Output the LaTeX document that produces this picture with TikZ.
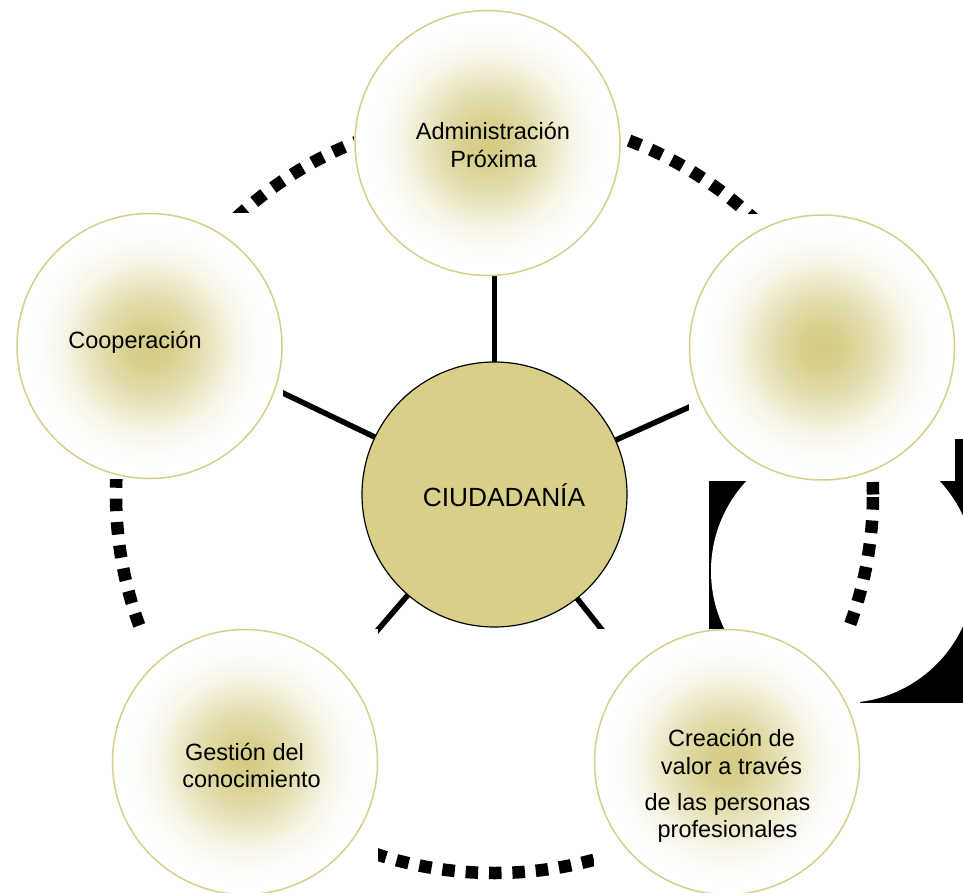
\documentclass[tikz,border=0pt]{standalone}
\usepackage{fontspec}
\setmainfont{Liberation Sans}
\usetikzlibrary{calc}
\pgfdeclarelayer{bg}
\pgfdeclarelayer{mid}
\pgfsetlayers{bg,mid,main}
\definecolor{gc}{RGB}{212,203,130}
\definecolor{rimc}{RGB}{217,205,138}
\definecolor{corec}{RGB}{216,208,137}
\pgfdeclareradialshading{glow}{\pgfpoint{0bp}{0bp}}{color(0bp)=(gc); color(4bp)=(gc!92!white); color(9bp)=(gc!65!white); color(13bp)=(gc!40!white); color(16.5bp)=(gc!18!white); color(20bp)=(gc!5!white); color(23bp)=(white); color(50bp)=(white)}
\tikzset{
  outer/.style={circle, minimum size=265pt, inner sep=0pt, draw=rimc, line width=1.5pt, shade, shading=glow},
  core/.style={circle, minimum size=265pt, inner sep=0pt, draw=black, line width=1.2pt, fill=corec},
  lbl/.style={anchor=base, font=\fontsize{23.5pt}{28pt}\selectfont, inner sep=0pt},
  corelbl/.style={anchor=base, font=\fontsize{26.3pt}{30pt}\selectfont, inner sep=0pt},
  spoke/.style={line width=5.5pt},
  ring/.style={line width=12.5pt, dash pattern=on 12.5pt off 10.9pt},
  bbox/.style={fill=white}
}
\begin{document}
\begin{tikzpicture}[x=1pt,y=-1pt]
\useasboundingbox (0,0) rectangle (963,893);
\begin{pgfonlayer}{bg}
  \fill[white] (0,0) rectangle (963,893);
  \fill[black] (709,439) rectangle (963,703);
  \fill[white] (843,571) circle[radius=132pt];
\end{pgfonlayer}

% nodes
\node[core]  (c)  at (494.5,494.5) {};
\node[outer] (n1) at (487.5,143) {};
\node[outer] (n2) at (822,347.5) {};
\node[outer] (n3) at (727,762) {};
\node[outer] (n4) at (245,762) {};
\node[outer] (n5) at (149.5,346) {};

\begin{pgfonlayer}{bg}
  \draw[ring] (c.center) circle[radius=378.5pt];
  \draw[spoke] (c.center) -- (c.center |- n1.center);
  \draw[spoke] (c.center) -- (n2.center);
  \draw[spoke] (c.center) -- ($(n3.center)+(-20,0)$);
  \draw[spoke] (c.center) -- ($(n4.center)+(19,0)$);
  \draw[spoke] (c.center) -- ($(n5.center)+(0,-17)$);
\end{pgfonlayer}

\begin{pgfonlayer}{mid}
  \foreach \n in {n1,n2,n3,n4,n5}{
    \fill[bbox] (\n.west |- \n.north) rectangle (\n.east |- \n.south);
  }
\end{pgfonlayer}

% labels
\node[corelbl] (tc) at (504,506) {CIUDADANÍA};
\node[lbl] (t1a) at (493,140) {Administración};
\node[lbl] (t1b) at (493.5,168) {Próxima};
\node[lbl] (t5) at (135,348) {Cooperación};
\node[lbl] (t4a) at (244.5,760) {Gestión del};
\node[lbl] (t4b) at (251.5,787) {conocimiento};
\node[lbl] (t3a) at (731.5,746) {Creación de};
\node[lbl] (t3b) at (731.5,774) {valor a través};
\node[lbl] (t3c) at (727.5,810) {de las personas};
\node[lbl] (t3d) at (727.5,837) {profesionales};
\end{tikzpicture}
\end{document}
